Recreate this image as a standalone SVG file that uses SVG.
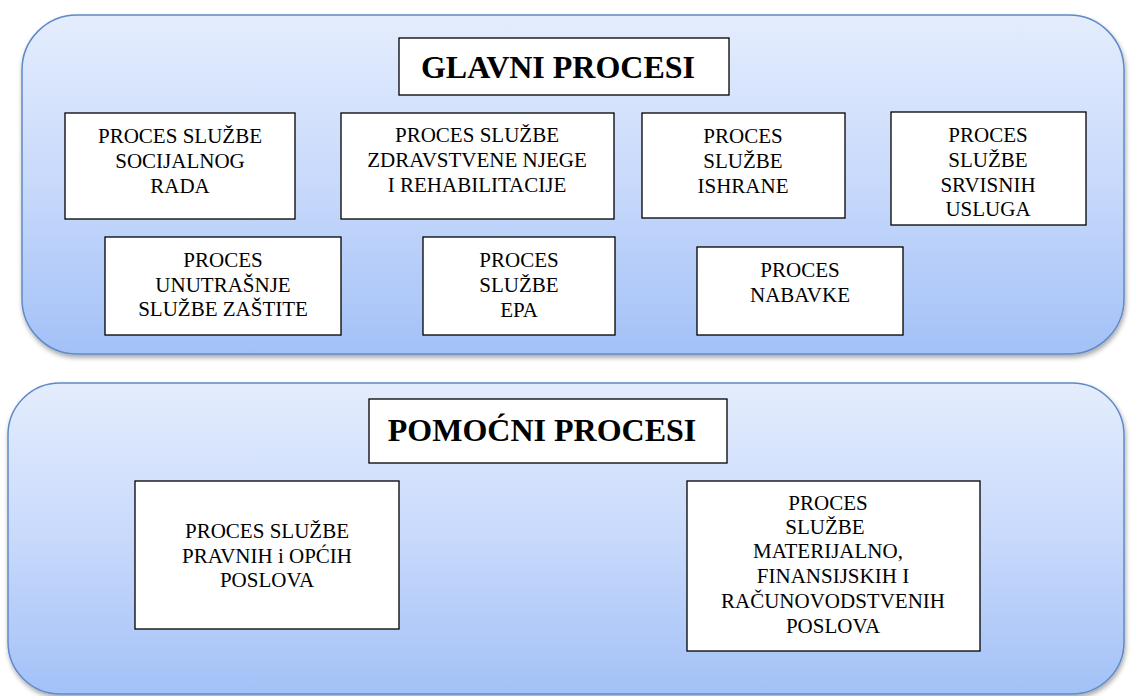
<svg xmlns="http://www.w3.org/2000/svg" width="1134" height="696" viewBox="0 0 1134 696">
<defs>
<linearGradient id="panelGrad" x1="0" y1="0" x2="0" y2="1">
<stop offset="0" stop-color="#e4edfd"/>
<stop offset="0.5" stop-color="#c8d9fb"/>
<stop offset="1" stop-color="#a3c1f7"/>
</linearGradient>
<filter id="shadow" x="-5%" y="-5%" width="110%" height="115%">
<feGaussianBlur in="SourceAlpha" stdDeviation="2.5"/>
<feOffset dx="1" dy="3" result="b"/>
<feComponentTransfer><feFuncA type="linear" slope="0.35"/></feComponentTransfer>
<feMerge><feMergeNode/><feMergeNode in="SourceGraphic"/></feMerge>
</filter>
</defs>
<style>
.panel{fill:url(#panelGrad);stroke:#5f8ac8;stroke-width:1.5}
.box{fill:#ffffff;stroke:#000000;stroke-width:1.3}
.t{font-size:21px;fill:#000;text-anchor:middle}
.h{font-size:32px;font-weight:bold;fill:#000;text-anchor:middle}
</style>
<rect width="1134" height="696" fill="#ffffff"/>
<g id="panel-glavni">
<rect class="panel" x="22" y="15" width="1102" height="339" rx="55" ry="55" filter="url(#shadow)"/>
</g>
<g id="panel-pomocni">
<rect class="panel" x="8" y="383" width="1116" height="311" rx="52" ry="52" filter="url(#shadow)"/>
</g>
<g id="connectors"></g>
<g font-family="'Liberation Serif', 'DejaVu Serif', serif">
<g id="glavni-title">
<rect class="box" x="399" y="38" width="330" height="57"/>
<text class="h" x="558" y="78">GLAVNI PROCESI</text>
</g>
<g id="socijalnog">
<rect class="box" x="65" y="113" width="230" height="106"/>
<text class="t" x="180" y="143">PROCES SLUŽBE</text>
<text class="t" x="180" y="168">SOCIJALNOG</text>
<text class="t" x="180" y="193">RADA</text>
</g>
<g id="zdravstvene">
<rect class="box" x="341" y="113" width="273" height="106"/>
<text class="t" x="477" y="142">PROCES SLUŽBE</text>
<text class="t" x="477" y="167">ZDRAVSTVENE NJEGE</text>
<text class="t" x="477" y="192">I REHABILITACIJE</text>
</g>
<g id="ishrane">
<rect class="box" x="642" y="113" width="203" height="105"/>
<text class="t" x="743" y="143">PROCES</text>
<text class="t" x="743" y="168">SLUŽBE</text>
<text class="t" x="743" y="193">ISHRANE</text>
</g>
<g id="srvisnih">
<rect class="box" x="891" y="112" width="195" height="113"/>
<text class="t" x="988" y="142">PROCES</text>
<text class="t" x="988" y="167">SLUŽBE</text>
<text class="t" x="988" y="192">SRVISNIH</text>
<text class="t" x="988" y="216">USLUGA</text>
</g>
<g id="zastite">
<rect class="box" x="105" y="237" width="236" height="98"/>
<text class="t" x="223" y="267">PROCES</text>
<text class="t" x="223" y="292">UNUTRAŠNJE</text>
<text class="t" x="223" y="316">SLUŽBE ZAŠTITE</text>
</g>
<g id="epa">
<rect class="box" x="423" y="237" width="192" height="98"/>
<text class="t" x="519" y="267">PROCES</text>
<text class="t" x="519" y="292">SLUŽBE</text>
<text class="t" x="519" y="317">EPA</text>
</g>
<g id="nabavke">
<rect class="box" x="697" y="247" width="206" height="88"/>
<text class="t" x="800" y="277">PROCES</text>
<text class="t" x="800" y="302">NABAVKE</text>
</g>
<g id="pomocni-title">
<rect class="box" x="369" y="399" width="358" height="64"/>
<text class="h" x="542" y="441">POMOĆNI PROCESI</text>
</g>
<g id="pravnih">
<rect class="box" x="135" y="481" width="264" height="148"/>
<text class="t" x="267" y="538">PROCES SLUŽBE</text>
<text class="t" x="267" y="563">PRAVNIH i OPĆIH</text>
<text class="t" x="267" y="587">POSLOVA</text>
</g>
<g id="materijalno">
<rect class="box" x="687" y="481" width="293" height="170"/>
<text class="t" x="828" y="510">PROCES</text>
<text class="t" x="825" y="534">SLUŽBE</text>
<text class="t" x="828" y="558">MATERIJALNO,</text>
<text class="t" x="833" y="583">FINANSIJSKIH I</text>
<text class="t" x="833" y="608">RAČUNOVODSTVENIH</text>
<text class="t" x="833" y="633">POSLOVA</text>
</g>
</g>
</svg>
